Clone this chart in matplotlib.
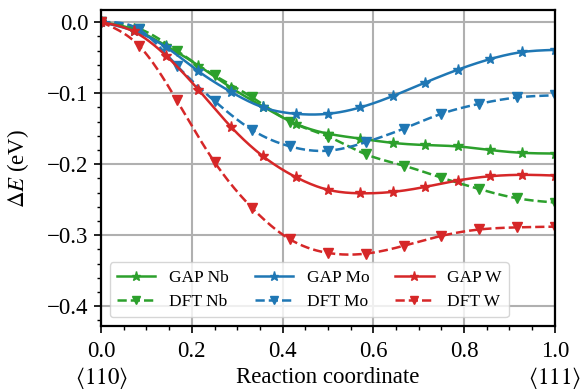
import numpy as np
import matplotlib
matplotlib.use('Agg')
from matplotlib import pyplot as plt
from matplotlib.ticker import MultipleLocator

# GAP sampled at 15 images, DFT at 13 images along the path
x_gap = np.arange(15) / 14
x_dft = np.arange(13) / 12

gap_nb = [0.0, -0.010, -0.033, -0.061, -0.092, -0.119, -0.143, -0.157, -0.164,
          -0.170, -0.173, -0.175, -0.180, -0.184, -0.185]
gap_mo = [0.0, -0.012, -0.035, -0.069, -0.098, -0.120, -0.129, -0.129, -0.120,
          -0.104, -0.085, -0.067, -0.052, -0.042, -0.039]
gap_w = [0.0, -0.013, -0.047, -0.095, -0.147, -0.189, -0.218, -0.236, -0.241,
         -0.239, -0.232, -0.223, -0.217, -0.215, -0.216]

dft_nb = [0.0, -0.009, -0.040, -0.075, -0.106, -0.140, -0.161, -0.186, -0.202,
          -0.219, -0.235, -0.248, -0.254]
dft_mo = [0.0, -0.010, -0.061, -0.111, -0.152, -0.175, -0.181, -0.169, -0.150,
          -0.129, -0.115, -0.106, -0.103]
dft_w = [0.0, -0.033, -0.110, -0.197, -0.262, -0.306, -0.325, -0.326, -0.315,
         -0.301, -0.292, -0.289, -0.288]

colors = {'Nb': '#2ca02c', 'Mo': '#1f77b4', 'W': '#d62728'}


def smooth(x, y, n=300):
	# natural cubic spline through the points, only for drawing the line
	x = np.asarray(x, float)
	y = np.asarray(y, float)
	m = len(x)
	h = np.diff(x)
	A = np.zeros((m, m))
	b = np.zeros(m)
	A[0, 0] = 1
	A[-1, -1] = 1
	for i in range(1, m - 1):
		A[i, i - 1] = h[i - 1]
		A[i, i] = 2 * (h[i - 1] + h[i])
		A[i, i + 1] = h[i]
		b[i] = 6 * ((y[i + 1] - y[i]) / h[i] - (y[i] - y[i - 1]) / h[i - 1])
	M = np.linalg.solve(A, b)
	xs = np.linspace(x[0], x[-1], n)
	k = np.clip(np.searchsorted(x, xs) - 1, 0, m - 2)
	t = xs - x[k]
	hk = h[k]
	ys = (M[k] * (x[k + 1] - xs) ** 3 / (6 * hk) + M[k + 1] * t ** 3 / (6 * hk)
		  + (y[k] / hk - M[k] * hk / 6) * (x[k + 1] - xs)
		  + (y[k + 1] / hk - M[k + 1] * hk / 6) * t)
	return xs, ys


def main():
	plt.rcParams['font.family'] = ['Liberation Serif', 'DejaVu Serif']
	plt.rcParams['mathtext.fontset'] = 'stix'

	fig = plt.figure(figsize=(5.81, 3.90), dpi=100)
	ax = fig.add_axes([0.174, 0.164, 0.781, 0.81])

	series = [('Nb', gap_nb, dft_nb), ('Mo', gap_mo, dft_mo), ('W', gap_w, dft_w)]
	for name, g, d in series:
		c = colors[name]
		xs, ys = smooth(x_gap, g)
		ax.plot(xs, ys, '-', color=c, lw=1.8)
		ax.plot(x_gap, g, '*', color=c, ms=8)
		ax.plot([], [], '-*', color=c, lw=1.8, ms=6.5, label='GAP ' + name)
		xs, ys = smooth(x_dft, d)
		ax.plot(xs, ys, '--', color=c, lw=1.8)
		ax.plot(x_dft, d, 'v', color=c, ms=6.5)
		ax.plot([], [], '--v', color=c, lw=1.8, ms=5.5, label='DFT ' + name)

	ax.set_xlim(0, 1)
	ax.set_ylim(-0.428, 0.017)
	ax.xaxis.set_major_locator(MultipleLocator(0.2))
	ax.xaxis.set_minor_locator(MultipleLocator(0.05))
	ax.yaxis.set_major_locator(MultipleLocator(0.1))
	ax.yaxis.set_minor_locator(MultipleLocator(0.02))
	ax.tick_params(which='major', labelsize=16.5, length=5, width=1.2)
	ax.tick_params(which='minor', length=3, width=1.0)
	ax.tick_params(axis='x', which='major', pad=6)
	ax.tick_params(axis='y', which='major', pad=4)
	ax.grid(True, color='#b0b0b0', lw=1.5)
	ax.set_axisbelow(True)
	for sp in ax.spines.values():
		sp.set_linewidth(1.6)

	ax.set_ylabel(r'$\Delta E$ (eV)', fontsize=16.5)
	ax.yaxis.set_label_coords(-0.155, 0.5)
	ax.text(0.0, -0.163, r'$\langle 110\rangle$', transform=ax.transAxes,
			ha='center', va='center', fontsize=16.5)
	ax.text(1.0, -0.163, r'$\langle 111\rangle$', transform=ax.transAxes,
			ha='center', va='center', fontsize=16.5)
	ax.text(0.5, -0.163, 'Reaction coordinate', transform=ax.transAxes,
			ha='center', va='center', fontsize=16.5)

	ax.legend(ncol=3, loc='lower left', fontsize=12.5, handlelength=2.2,
			  columnspacing=1.5, borderaxespad=0.5)

	fig.savefig('out.png', dpi=100)


if __name__ == '__main__':
	main()
